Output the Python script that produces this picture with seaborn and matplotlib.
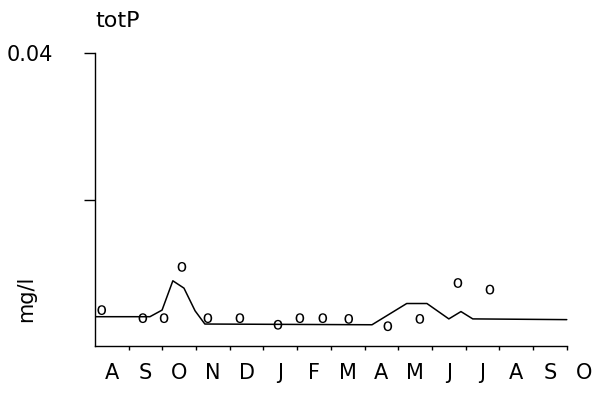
import matplotlib
matplotlib.use("Agg")
import matplotlib.pyplot as plt
import seaborn as sns
import pandas as pd
import numpy as np

# --- data (x in months since 1 August, y in mg/l) ---
month_labels = ['A', 'S', 'O', 'N', 'D', 'J', 'F', 'M', 'A', 'M', 'J', 'J', 'A', 'S', 'O']

line_x = [0.0, 1.63, 1.99, 2.31, 2.64, 2.97, 3.26, 8.22, 9.25, 9.85, 10.5, 10.86, 11.21, 14.0]
line_y = [0.0040, 0.0040, 0.0049, 0.0089, 0.0079, 0.0048, 0.0030, 0.0029, 0.0058, 0.0058,
          0.0037, 0.0047, 0.0037, 0.0036]

obs_x = [0.2, 1.42, 2.05, 2.58, 3.35, 4.3, 5.43, 6.08, 6.76, 7.53, 8.69, 9.64, 10.77, 11.72]
obs_y = [0.0049, 0.0038, 0.0038, 0.0108, 0.0038, 0.0038, 0.0029, 0.0038, 0.0038, 0.0037,
         0.0027, 0.0037, 0.0086, 0.0077]

df_line = pd.DataFrame({'x': line_x, 'y': line_y})
df_obs = pd.DataFrame({'x': obs_x, 'y': obs_y})

sns.set_style('ticks')
plt.rcParams['font.family'] = ['DejaVu Sans']
plt.rcParams['text.color'] = 'black'
plt.rcParams['axes.labelcolor'] = 'black'
plt.rcParams['xtick.color'] = 'black'
plt.rcParams['ytick.color'] = 'black'

fig = plt.figure(figsize=(6.02, 3.95), dpi=100)
ax = fig.add_axes([95 / 602, 1 - 346 / 395, (587 - 95) / 602, (346 - 53) / 395])

sns.lineplot(data=df_line, x='x', y='y', ax=ax, color='black', linewidth=1.1,
             sort=False, estimator=None)
sns.scatterplot(data=df_obs, x='x', y='y', ax=ax, marker=r'$\mathrm{o}$', s=50,
                color='black', edgecolor='none')

ax.set_xlim(0, 14.6)
ax.set_ylim(0, 0.04)
sns.despine(ax=ax)
ax.spines['bottom'].set_bounds(0, 14)
for sp in ['left', 'bottom']:
    ax.spines[sp].set_linewidth(1.0)
    ax.spines[sp].set_color('black')

# month boundaries as ticks, month names centred between them
ax.set_xticks(np.arange(1, 15))
ax.set_xticklabels([])
ax.set_xticks(np.arange(len(month_labels)) + 0.5, minor=True)
ax.set_xticklabels(month_labels, minor=True, fontsize=15)
ax.tick_params(axis='x', which='major', direction='out', length=3, width=1.0, color='black')
ax.tick_params(axis='x', which='minor', length=0, pad=12)

ax.set_yticks([0.02, 0.04])
ax.set_yticklabels(['', '0.04'], fontsize=15)
ax.tick_params(axis='y', direction='out', length=8, width=1.0, color='black', pad=22)

ax.set_xlabel('')
ax.set_ylabel('mg/l', fontsize=15)
ax.yaxis.set_label_coords(-0.12, 0.16)
ax.set_title('totP', loc='left', fontsize=16, pad=19)

fig.savefig('out.png', dpi=100)
